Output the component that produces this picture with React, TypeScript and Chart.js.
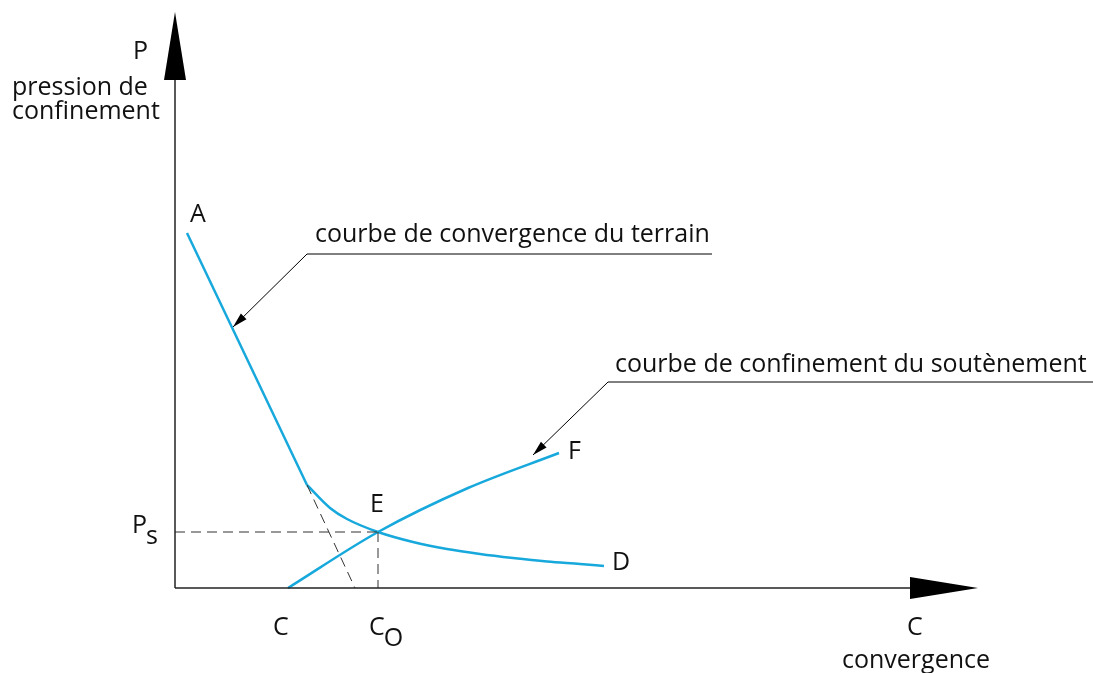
import React, { useEffect, useRef } from "react";
import { Chart, registerables } from "chart.js";

Chart.register(...registerables);

// ---- data (schematic units: convergence C on x, confinement pressure P on y) ----
const groundLineX = [1.2, 13.2];
const groundLineY = [35.5, 10.3];
const groundCurveX = [13.2, 15.5, 17.2, 20.3, 23.8, 27.2, 30.5, 33.8, 37.2, 40.5, 42.9];
const groundCurveY = [10.3, 8.0, 6.9, 5.6, 4.6, 3.9, 3.4, 3.0, 2.65, 2.4, 2.2];
const supportX = [11.3, 20.3, 29.3, 38.4];
const supportY = [0, 5.6, 10.0, 13.5];
const extensionX = [13.2, 18.0];
const extensionY = [10.3, 0];
const psLineX = [0, 20.3];
const psLineY = [5.6, 5.6];
const coLineX = [20.3, 20.3];
const coLineY = [5.6, 0];
const xAxisX = [0, 73.5, 80.3];
const xAxisY = [0, 0, 0];
const yAxisX = [0, 0, 0];
const yAxisY = [0, 50.8, 57.6];
const leader1X = [53.7, 13.2, 5.8];
const leader1Y = [33.4, 33.4, 26.1];
const leader2X = [91.8, 43.3, 35.8];
const leader2Y = [20.6, 20.6, 13.3];

// labels: text, optional subscript, anchor (left, baseline) in data units
const labelTexts = [
  "P", "pression de", "confinement", "A",
  "courbe de convergence du terrain", "courbe de confinement du soutènement",
  "F", "E", "D", "P", "C", "C", "C", "convergence",
];
const labelSubs = ["", "", "", "", "", "", "", "", "", "s", "", "O", "", ""];
const labelX = [-4.2, -16.3, -16.3, 1.5, 14.0, 44.0, 39.3, 19.5, 43.7, -4.3, 9.8, 19.4, 73.2, 66.7];
const labelY = [52.9, 49.3, 46.9, 36.6, 34.6, 21.6, 12.9, 7.6, 1.8, 5.5, -4.7, -4.7, -4.7, -8.0];

const X_MIN = -17.5;
const X_MAX = 91.8;
const Y_MIN = -8.5;
const Y_MAX = 58.8;

const CYAN = "#17a8dc";
const INK = "#111111";
const FONT = '25px "Open Sans", "Liberation Sans", sans-serif';

const pts = (xs: number[], ys: number[]) => xs.map((x, i) => ({ x, y: ys[i] }));

const annotations = {
  id: "annotations",
  afterDatasetsDraw(chart: any) {
    const ctx = chart.ctx;
    const xs = chart.scales.x;
    const ys = chart.scales.y;
    const px = (v: number) => xs.getPixelForValue(v);
    const py = (v: number) => ys.getPixelForValue(v);
    ctx.save();

    // big axis arrowheads
    const bigHead = (bx: number, by: number, tx: number, ty: number, half: number) => {
      const x0 = px(bx), y0 = py(by), x1 = px(tx), y1 = py(ty);
      const dx = x1 - x0, dy = y1 - y0;
      const len = Math.hypot(dx, dy);
      const nx = -dy / len, ny = dx / len;
      ctx.beginPath();
      ctx.moveTo(x1, y1);
      ctx.lineTo(x0 + nx * half, y0 + ny * half);
      ctx.lineTo(x0 - nx * half, y0 - ny * half);
      ctx.closePath();
      ctx.fillStyle = "#000";
      ctx.fill();
    };
    bigHead(xAxisX[1], xAxisY[1], xAxisX[2], xAxisY[2], 11);
    bigHead(yAxisX[1], yAxisY[1], yAxisX[2], yAxisY[2], 11);

    // small leader arrowheads
    const smallHead = (xsArr: number[], ysArr: number[]) => {
      const n = xsArr.length;
      const x0 = px(xsArr[n - 2]), y0 = py(ysArr[n - 2]);
      const x1 = px(xsArr[n - 1]), y1 = py(ysArr[n - 1]);
      const dx = x1 - x0, dy = y1 - y0;
      const len = Math.hypot(dx, dy);
      const ux = dx / len, uy = dy / len;
      const L = 15, H = 4;
      const bx = x1 - ux * L, by = y1 - uy * L;
      ctx.beginPath();
      ctx.moveTo(x1, y1);
      ctx.lineTo(bx - uy * H, by + ux * H);
      ctx.lineTo(bx + uy * H, by - ux * H);
      ctx.closePath();
      ctx.fillStyle = "#000";
      ctx.fill();
    };
    smallHead(leader1X, leader1Y);
    smallHead(leader2X, leader2Y);

    // labels
    ctx.font = FONT;
    ctx.fillStyle = INK;
    ctx.textAlign = "left";
    ctx.textBaseline = "alphabetic";
    labelTexts.forEach((t, i) => {
      const x = px(labelX[i]);
      const y = py(labelY[i]);
      ctx.fillText(t, x, y);
      if (labelSubs[i]) {
        const w = ctx.measureText(t).width;
        ctx.fillText(labelSubs[i], x + w - 1, y + 11);
      }
    });
    ctx.restore();
  },
};

export default function App() {
  const ref = useRef<HTMLCanvasElement | null>(null);

  useEffect(() => {
    if (!ref.current) return;
    const line = (data: any, color: string, width: number, extra: any = {}) => ({
      data,
      borderColor: color,
      borderWidth: width,
      showLine: true,
      pointRadius: 0,
      pointHoverRadius: 0,
      fill: false,
      tension: 0,
      ...extra,
    });
    const chart = new Chart(ref.current, {
      type: "scatter",
      data: {
        datasets: [
          line(pts(xAxisX.slice(0, 2), xAxisY.slice(0, 2)), "#222", 1.5),
          line(pts(yAxisX.slice(0, 2), yAxisY.slice(0, 2)), "#222", 1.5),
          line(pts(extensionX, extensionY), "#333", 1, { borderDash: [10, 6] }),
          line(pts(psLineX, psLineY), "#333", 1, { borderDash: [10, 6] }),
          line(pts(coLineX, coLineY), "#333", 1, { borderDash: [10, 6] }),
          line(pts(leader1X, leader1Y), "#000", 1),
          line(pts(leader2X, leader2Y), "#000", 1),
          line(pts(groundLineX, groundLineY), CYAN, 2.5),
          line(pts(groundCurveX, groundCurveY), CYAN, 2.5, { cubicInterpolationMode: "monotone" }),
          line(pts(supportX, supportY), CYAN, 2.5, { cubicInterpolationMode: "monotone" }),
        ],
      },
      options: {
        animation: false,
        responsive: false,
        devicePixelRatio: 1,
        layout: { padding: 0 },
        events: [],
        plugins: { legend: { display: false }, tooltip: { enabled: false }, title: { display: false } },
        scales: {
          x: { type: "linear", min: X_MIN, max: X_MAX, display: false },
          y: { type: "linear", min: Y_MIN, max: Y_MAX, display: false },
        },
      },
      plugins: [annotations],
    } as any);
    return () => chart.destroy();
  }, []);

  return (
    <div style={{ position: "fixed", left: 0, top: 0, width: 1093, height: 673, background: "#fff" }}>
      <canvas ref={ref} width={1093} height={673} style={{ width: 1093, height: 673, display: "block" }} />
    </div>
  );
}
